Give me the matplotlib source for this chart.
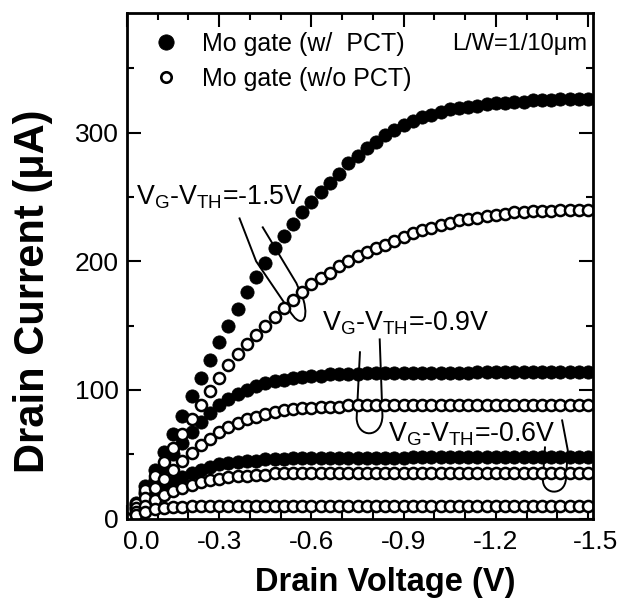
import matplotlib
matplotlib.use("Agg")
import matplotlib.pyplot as plt
from matplotlib import font_manager
from matplotlib.path import Path
from matplotlib.patches import PathPatch
from matplotlib.lines import Line2D
from matplotlib.transforms import ScaledTranslation

names = {f.name for f in font_manager.fontManager.ttflist}
NARROW = 'Liberation Sans Narrow' in names
FONT = 'Liberation Sans Narrow' if NARROW else 'Liberation Sans'

plt.rcParams['font.family'] = [FONT, 'DejaVu Sans']
plt.rcParams['mathtext.fontset'] = 'custom'
plt.rcParams['mathtext.rm'] = FONT
plt.rcParams['mathtext.it'] = FONT
plt.rcParams['mathtext.bf'] = FONT

# ---------------- data ----------------
vd = [0.00, -0.03, -0.06, -0.09, -0.12, -0.15, -0.18, -0.21, -0.24, -0.27,
      -0.30, -0.33, -0.36, -0.39, -0.42, -0.45, -0.48, -0.51, -0.54, -0.57,
      -0.60, -0.63, -0.66, -0.69, -0.72, -0.75, -0.78, -0.81, -0.84, -0.87,
      -0.90, -0.93, -0.96, -0.99, -1.02, -1.05, -1.08, -1.11, -1.14, -1.17,
      -1.20, -1.23, -1.26, -1.29, -1.32, -1.35, -1.38, -1.41, -1.44, -1.47,
      -1.50]

# with PCT (filled)
id_pct_15 = [0, 12, 25, 38, 52, 66, 80, 95, 109, 123,
             137, 150, 163, 176, 188, 199, 210, 220, 229, 238,
             246, 254, 261, 268, 276, 282, 288, 293, 298, 302,
             306, 309, 312, 314, 316, 318, 319, 320, 321, 322,
             323, 323, 324, 324, 325, 325, 325, 326, 326, 326,
             326]
id_pct_09 = [0, 10, 20, 30, 40, 50, 59, 67, 75, 82,
             88, 93, 97, 100, 103, 105, 107, 108, 109, 110,
             111, 111, 112, 112, 112, 112, 113, 113, 113, 113,
             113, 113, 113, 113, 113, 113, 113, 113, 114, 114,
             114, 114, 114, 114, 114, 114, 114, 114, 114, 114,
             114]
id_pct_06 = [0, 7, 13, 19, 24, 28, 32, 35, 38, 40,
             42, 43, 44, 45, 45, 46, 46, 46, 47, 47,
             47, 47, 47, 47, 47, 47, 47, 47, 47, 47,
             47, 48, 48, 48, 48, 48, 48, 48, 48, 48,
             48, 48, 48, 48, 48, 48, 48, 48, 48, 48,
             48]
# without PCT (open)
id_nopct_15 = [0, 11, 22, 33, 44, 55, 66, 77, 88, 99,
               109, 119, 128, 136, 143, 150, 157, 164, 170, 176,
               182, 187, 191, 196, 200, 204, 207, 210, 213, 216,
               219, 222, 224, 226, 228, 230, 232, 233, 234, 235,
               236, 237, 238, 238, 239, 239, 239, 240, 240, 240,
               240]
id_nopct_09 = [0, 8, 16, 24, 31, 38, 45, 51, 57, 62,
               67, 71, 74, 77, 79, 81, 83, 84, 85, 86,
               86, 87, 87, 87, 88, 88, 88, 88, 88, 88,
               88, 88, 88, 88, 88, 88, 88, 88, 88, 88,
               88, 88, 88, 88, 88, 88, 88, 88, 88, 88,
               88]
id_nopct_06 = [0, 5, 10, 14, 18, 21, 24, 26, 28, 30,
               31, 32, 33, 33, 34, 34, 35, 35, 35, 35,
               35, 35, 35, 35, 35, 35, 35, 35, 35, 35,
               35, 35, 35, 35, 35, 35, 35, 35, 35, 35,
               35, 35, 35, 35, 35, 35, 35, 35, 35, 35,
               35]
id_nopct_low = [0, 3, 5, 7, 8, 9, 9, 10, 10, 10,
                10, 10, 10, 10, 10, 10, 10, 10, 10, 10,
                10, 10, 10, 10, 10, 10, 10, 10, 10, 10,
                10, 10, 10, 10, 10, 10, 10, 10, 10, 10,
                10, 10, 10, 10, 10, 10, 10, 10, 10, 10,
                10]

xticks = [0.0, -0.3, -0.6, -0.9, -1.2, -1.5]
xticklabels = ['0.0', '-0.3', '-0.6', '-0.9', '-1.2', '-1.5']
yticks = [0, 100, 200, 300]
yticklabels = ['0', '100', '200', '300']

legend_labels = ['Mo gate (w/  PCT)', 'Mo gate (w/o PCT)']
ann_labels = [r'V$_{\mathrm{G}}$-V$_{\mathrm{TH}}$=-1.5V',
              r'V$_{\mathrm{G}}$-V$_{\mathrm{TH}}$=-0.9V',
              r'V$_{\mathrm{G}}$-V$_{\mathrm{TH}}$=-0.6V']

# ---------------- figure ----------------
if NARROW:
    fs_tick, fs_leg, fs_lw, fs_ann = 21, 21, 20, 22
else:
    fs_tick, fs_leg, fs_lw, fs_ann = 19, 18, 17, 19.3

fig = plt.figure(figsize=(6.29, 6.16), dpi=100)
ax = fig.add_axes([127/629, 1-518.5/616, (593-127)/629, (518.5-13)/616])

filled_kw = dict(ls='none', marker='o', ms=9.5, mfc='black', mec='black', mew=0.6)
open_kw = dict(ls='none', marker='o', ms=8, mfc='white', mec='black', mew=1.8)

for y in (id_pct_15, id_pct_09, id_pct_06):
    ax.plot(vd, y, **filled_kw)
for y in (id_nopct_15, id_nopct_09, id_nopct_06, id_nopct_low):
    ax.plot(vd, y, **open_kw)

ax.set_xlim(0, -1.516)
ax.set_ylim(0, 393)
ax.set_xticks(xticks)
ax.set_xticklabels(xticklabels)
ax.set_xticks([-0.1, -0.2, -0.4, -0.5, -0.7, -0.8, -1.0, -1.1, -1.3, -1.4], minor=True)
ax.set_yticks(yticks)
ax.set_yticklabels(yticklabels)
ax.set_yticks([50, 150, 250, 350], minor=True)
ax.tick_params(which='both', direction='in', top=True, right=True, width=1.5,
               labelsize=fs_tick, colors='black')
ax.tick_params(which='major', length=10)
ax.tick_params(which='minor', length=5)
ax.tick_params(axis='x', pad=8)
ax.tick_params(axis='y', pad=6)
for s in ax.spines.values():
    s.set_linewidth(2)

# nudge the end x tick labels like the reference
xl = ax.get_xticklabels()
xl[0].set_transform(xl[0].get_transform() + ScaledTranslation(14/100, 0, fig.dpi_scale_trans))
xl[-1].set_transform(xl[-1].get_transform() + ScaledTranslation(7/100, 0, fig.dpi_scale_trans))

fig.text(33/629, 1-291/616, 'Drain Current (\u03bcA)', rotation=90, ha='center', va='center',
         fontsize=30, fontweight='bold', family=['Liberation Sans', 'DejaVu Sans'])
fig.text(385/629, 1-583/616, 'Drain Voltage (V)', ha='center', va='center',
         fontsize=23.5, fontweight='bold', family=['Liberation Sans', 'DejaVu Sans'])

# legend
handles = [Line2D([], [], **dict(filled_kw, ms=11)), Line2D([], [], **dict(open_kw, ms=7.5, mew=1.9))]
leg = ax.legend(handles, legend_labels, loc='upper left', bbox_to_anchor=(0.057, 0.962),
                frameon=False, fontsize=fs_leg, handlelength=1.0, handletextpad=0.95,
                labelspacing=0.42, borderpad=0, borderaxespad=0)
ax.text(0.697, 0.939, 'L/W=1/10\u03bcm', transform=ax.transAxes, ha='left', va='center',
        fontsize=fs_lw)

# annotations
ax.text(-0.029, 244, ann_labels[0], fontsize=fs_ann, ha='left', va='baseline')
ax.text(-0.633, 146.5, ann_labels[1], fontsize=fs_ann, ha='left', va='baseline')
ax.text(-0.85, 59.5, ann_labels[2], fontsize=fs_ann, ha='left', va='baseline')

# leader loops (annotation strokes)
M, L, C = Path.MOVETO, Path.LINETO, Path.CURVE4
loops = [
    ([(-0.365, 234), (-0.42, 200), (-0.528, 162), (-0.56, 148), (-0.595, 152), (-0.574, 170),
      (-0.551, 183), (-0.44, 227)], [M, L, L, C, C, C, L, L]),
    ([(-0.758, 130), (-0.747, 78), (-0.75, 62), (-0.83, 62), (-0.831, 80), (-0.822, 140)],
     [M, L, C, C, C, L]),
    ([(-1.415, 77), (-1.434, 53), (-1.428, 31), (-1.425, 17), (-1.35, 18), (-1.353, 31), (-1.36, 56)],
     [M, L, L, C, C, C, L]),
]
for pts, codes in loops:
    ax.add_patch(PathPatch(Path(pts, codes), fill=False, lw=1.4, ec='black'))

fig.savefig('out.png', dpi=100)
